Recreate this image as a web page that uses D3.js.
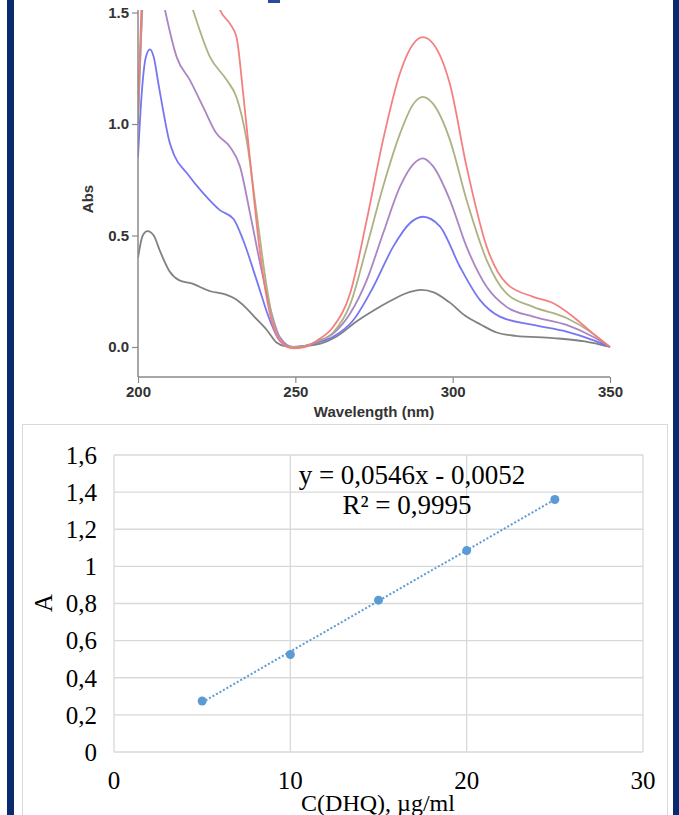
<!DOCTYPE html>
<meta charset="utf-8">
<script src="https://cdn.jsdelivr.net/npm/d3@7"></script>
<style>
    body { margin: 0; background: #fff; }
    svg { display: block; }
</style>
<svg width="679" height="815"></svg>
<script>
    // spectra, [wavelength nm, Abs]
    var specGray = [[200,0.40],[201.5,0.50],[203,0.52],[205,0.50],[207,0.43],[210,0.34],[213,0.30],[217,0.285],[223,0.25],[228,0.235],[231,0.215],[234,0.18],[237,0.135],[241,0.075],[244,0.02],[247,0.003],[250,0],[254,0.005],[258,0.015],[263,0.046],[270,0.12],[275,0.165],[280,0.205],[285,0.24],[290,0.256],[294,0.245],[299,0.20],[304,0.14],[309,0.10],[314,0.065],[320,0.05],[332,0.04],[342,0.025],[350,0]];
    var specBlue = [[200,0.85],[201,1.1],[202.5,1.3],[203.8,1.335],[205,1.3],[206.5,1.18],[208,1.06],[210,0.92],[211.5,0.86],[215.5,0.78],[220.7,0.69],[226,0.614],[230.3,0.575],[233.4,0.48],[237.7,0.30],[241.9,0.12],[245,0.03],[249.3,0.0],[253,0.005],[257,0.02],[262,0.046],[268.4,0.12],[274.8,0.27],[281.1,0.45],[286.4,0.555],[290.5,0.584],[296,0.54],[302.3,0.36],[308.7,0.21],[315,0.136],[325.6,0.099],[336.2,0.069],[344.6,0.031],[350,0]];
    var specPurple = [[200,1.0],[201.5,1.55],[203,1.8],[205,1.8],[207,1.62],[208.6,1.51],[212.3,1.30],[216.5,1.197],[220.7,1.077],[224.9,0.958],[229.2,0.898],[232.4,0.81],[235.6,0.60],[238.8,0.375],[241.9,0.18],[245,0.046],[249.3,0.0],[253,0.005],[257,0.025],[262,0.06],[267.4,0.15],[272.7,0.30],[277.9,0.51],[283.3,0.72],[287.5,0.82],[290.5,0.846],[293.8,0.81],[299.1,0.66],[304.4,0.45],[310.8,0.27],[317.1,0.18],[325.6,0.136],[336.2,0.099],[344.6,0.046],[350,0]];
    var specGreen = [[200,1.03],[201.5,1.6],[204,2.0],[210,1.9],[215,1.62],[217.5,1.51],[222.9,1.30],[228.2,1.197],[231.3,1.12],[234.5,0.93],[237.7,0.60],[240.9,0.27],[244,0.06],[248,0.0],[252,0.002],[257,0.025],[262,0.065],[267.4,0.19],[272.7,0.45],[277.9,0.72],[283.3,0.958],[287.5,1.09],[290.5,1.122],[293.8,1.09],[299.1,0.93],[304.4,0.66],[310.8,0.39],[317.1,0.24],[325.6,0.18],[336.2,0.13],[344.6,0.06],[350,0]];
    var specRed = [[200,1.06],[201.5,1.7],[204,2.3],[212,2.3],[220,1.9],[226.1,1.51],[229.2,1.45],[231.3,1.39],[233.4,1.14],[235.6,0.84],[238.8,0.42],[241.9,0.15],[245,0.03],[249.3,-0.006],[253,0.0],[257,0.03],[262,0.09],[267.4,0.24],[272.7,0.57],[277.9,0.93],[283.3,1.23],[287.5,1.36],[290.5,1.39],[293.8,1.36],[299.1,1.18],[304.4,0.81],[310.8,0.45],[317.1,0.285],[325.6,0.225],[332,0.196],[338.3,0.136],[344.6,0.06],[350,0]];

    var spectra = [
        {data: specGray, color: "#7a7a7a"},
        {data: specBlue, color: "#6f6ff2"},
        {data: specPurple, color: "#a57ec2"},
        {data: specGreen, color: "#a9ae7c"},
        {data: specRed, color: "#f27a7a"}
    ];
    var specXTicks = [200, 250, 300, 350];
    var specYTicks = [0.0, 0.5, 1.0, 1.5];

    // calibration
    var conc = [5, 10, 15, 20, 25];
    var absorb = [0.275, 0.525, 0.818, 1.085, 1.36];
    var slope = 0.0546, intercept = -0.0052;
    var calXTicks = [0, 10, 20, 30];
    var calYTicks = [0, 0.2, 0.4, 0.6, 0.8, 1.0, 1.2, 1.4, 1.6];

    var svg = d3.select("svg");

    // frame
    svg.append("rect").attr("x", 7).attr("y", 0).attr("width", 7).attr("height", 815).attr("fill", "#0a2a6e");
    svg.append("rect").attr("x", 673).attr("y", 0).attr("width", 6).attr("height", 815).attr("fill", "#0a2a6e");
    svg.append("rect").attr("x", 268).attr("y", 0).attr("width", 12).attr("height", 3).attr("fill", "#2a4a9e");

    // ---------- top: spectra ----------
    var sx = d3.scaleLinear().domain([200, 350]).range([138, 610]);
    var sy = d3.scaleLinear().domain([0, 1.5]).range([347, 12.5]);

    svg.append("clipPath").attr("id", "specClip")
        .append("rect").attr("x", 138).attr("y", 10).attr("width", 474).attr("height", 367);

    var line = d3.line()
        .x(function (d) { return sx(d[0]); })
        .y(function (d) { return sy(d[1]); })
        .curve(d3.curveMonotoneX);

    svg.append("g").attr("clip-path", "url(#specClip)")
        .selectAll("path").data(spectra).enter().append("path")
        .attr("d", function (d) { return line(d.data); })
        .attr("fill", "none")
        .attr("stroke", function (d) { return d.color; })
        .attr("stroke-width", 1.8)
        .attr("stroke-opacity", 0.95);

    var axisFont = "Liberation Sans, Arial, sans-serif";

    var yAx = svg.append("g").attr("transform", "translate(138,0)")
        .call(d3.axisLeft(sy).tickValues(specYTicks).tickFormat(d3.format(".1f")).tickSize(6).tickSizeOuter(0));
    yAx.select(".domain").remove();
    svg.append("line").attr("x1", 138).attr("x2", 138).attr("y1", 10).attr("y2", 377)
        .attr("stroke", "#8a8a8a").attr("stroke-width", 1.5);

    var xAx = svg.append("g").attr("transform", "translate(0,377)")
        .call(d3.axisBottom(sx).tickValues(specXTicks).tickSize(6).tickSizeOuter(0));
    xAx.select(".domain").remove();
    svg.append("line").attr("x1", 138).attr("x2", 610).attr("y1", 377).attr("y2", 377)
        .attr("stroke", "#8a8a8a").attr("stroke-width", 1.5);

    [yAx, xAx].forEach(function (g) {
        g.selectAll(".tick line").attr("stroke", "#8a8a8a").attr("stroke-width", 1.2);
        g.selectAll(".tick text").attr("font-family", axisFont).attr("font-weight", "bold")
            .attr("font-size", 15).attr("fill", "#333");
    });
    yAx.selectAll(".tick text").attr("x", -9);
    xAx.selectAll(".tick text").attr("y", 9);

    svg.append("text").attr("x", 374).attr("y", 417).attr("text-anchor", "middle")
        .attr("font-family", axisFont).attr("font-weight", "bold").attr("font-size", 15).attr("fill", "#333")
        .text("Wavelength (nm)");
    svg.append("text").attr("transform", "translate(93,199) rotate(-90)").attr("text-anchor", "middle")
        .attr("font-family", axisFont).attr("font-weight", "bold").attr("font-size", 15).attr("fill", "#333")
        .text("Abs");

    // ---------- bottom: calibration ----------
    svg.append("rect").attr("x", 22.5).attr("y", 424.5).attr("width", 645).attr("height", 400)
        .attr("fill", "#fff").attr("stroke", "#d9d9d9").attr("stroke-width", 1);

    var cx = d3.scaleLinear().domain([0, 30]).range([114, 643]);
    var cy = d3.scaleLinear().domain([0, 1.6]).range([752, 455]);
    var serif = "Liberation Serif, 'Times New Roman', serif";

    svg.append("g").selectAll("line").data(calYTicks).enter().append("line")
        .attr("x1", cx(0)).attr("x2", cx(30))
        .attr("y1", function (d) { return cy(d); }).attr("y2", function (d) { return cy(d); })
        .attr("stroke", "#d9d9d9").attr("stroke-width", 1.3);
    svg.append("g").selectAll("line").data(calXTicks).enter().append("line")
        .attr("y1", cy(0)).attr("y2", cy(1.6))
        .attr("x1", function (d) { return cx(d); }).attr("x2", function (d) { return cx(d); })
        .attr("stroke", "#d9d9d9").attr("stroke-width", 1.3);

    var fmtComma = function (d) { return d === 0 ? "0" : d3.format(".1f")(d).replace(".", ",").replace(/,0$/, ""); };

    svg.append("g").selectAll("text").data(calYTicks).enter().append("text")
        .attr("x", 97).attr("y", function (d) { return cy(d); }).attr("dy", "0.35em")
        .attr("text-anchor", "end").attr("font-family", serif).attr("font-size", 25).attr("fill", "#000")
        .text(fmtComma);
    svg.append("g").selectAll("text").data(calXTicks).enter().append("text")
        .attr("x", function (d) { return cx(d); }).attr("y", 789)
        .attr("text-anchor", "middle").attr("font-family", serif).attr("font-size", 25).attr("fill", "#000")
        .text(function (d) { return d; });

    svg.append("text").attr("x", 378).attr("y", 811).attr("text-anchor", "middle")
        .attr("font-family", serif).attr("font-size", 24).attr("fill", "#000")
        .text("C(DHQ), µg/ml");
    svg.append("text").attr("transform", "translate(52,603) rotate(-90)").attr("text-anchor", "middle")
        .attr("font-family", serif).attr("font-size", 25).attr("fill", "#000")
        .text("A");

    // trendline
    svg.append("line")
        .attr("x1", cx(conc[0])).attr("y1", cy(slope * conc[0] + intercept))
        .attr("x2", cx(conc[conc.length - 1])).attr("y2", cy(slope * conc[conc.length - 1] + intercept))
        .attr("stroke", "#5b9bd5").attr("stroke-width", 2).attr("stroke-dasharray", "2,2");

    svg.append("g").selectAll("circle").data(conc).enter().append("circle")
        .attr("cx", function (d) { return cx(d); })
        .attr("cy", function (d, i) { return cy(absorb[i]); })
        .attr("r", 4.5).attr("fill", "#5b9bd5");

    svg.append("text").attr("x", 412).attr("y", 484).attr("text-anchor", "middle")
        .attr("font-family", serif).attr("font-size", 27).attr("fill", "#000")
        .text("y = 0,0546x - 0,0052");
    svg.append("text").attr("x", 407).attr("y", 514).attr("text-anchor", "middle")
        .attr("font-family", serif).attr("font-size", 27).attr("fill", "#000")
        .text("R² = 0,9995");
</script>
